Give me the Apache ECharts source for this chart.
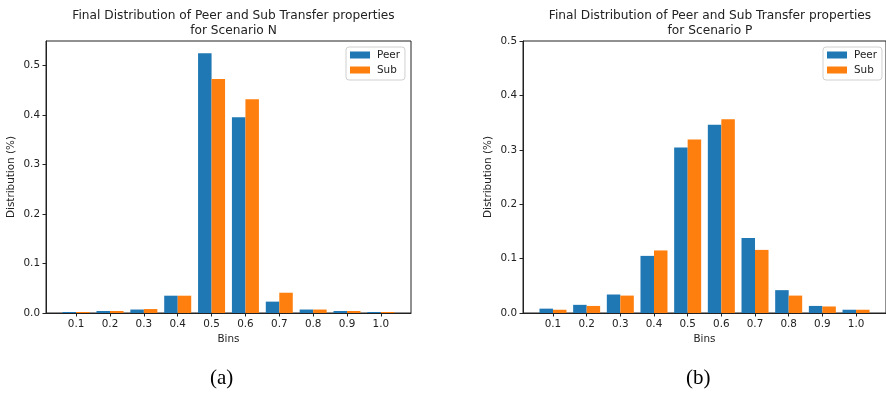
<!DOCTYPE html>
<html>
<head>
<meta charset="utf-8">
<style>
  html, body { margin: 0; padding: 0; background: #fff; }
  #chart { width: 886px; height: 398px; }
</style>
<script src="https://cdn.jsdelivr.net/npm/echarts@6/dist/echarts.min.js"></script>
</head>
<body>
<div id="chart"></div>
<script>
// Bin labels shared by both panels
const bins = ['0.1', '0.2', '0.3', '0.4', '0.5', '0.6', '0.7', '0.8', '0.9', '1.0'];

// Scenario N
const peerN = [0.002, 0.004, 0.007, 0.035, 0.525, 0.396, 0.023, 0.007, 0.004, 0.002];
const subN  = [0.002, 0.004, 0.008, 0.035, 0.473, 0.432, 0.041, 0.007, 0.004, 0.002];

// Scenario P
const peerP = [0.008, 0.015, 0.034, 0.105, 0.304, 0.346, 0.138, 0.042, 0.013, 0.006];
const subP  = [0.006, 0.013, 0.032, 0.115, 0.319, 0.356, 0.116, 0.032, 0.012, 0.006];

// y tick values per panel
const yTicksN = [0, 0.1, 0.2, 0.3, 0.4, 0.5];
const yTicksP = [0, 0.1, 0.2, 0.3, 0.4, 0.5];

const titleN = 'Final Distribution of Peer and Sub Transfer properties\nfor Scenario N';
const titleP = 'Final Distribution of Peer and Sub Transfer properties\nfor Scenario P';

const BLUE = '#1f77b4';
const ORANGE = '#ff7f0e';
const FONT = 'DejaVu Sans';
const INK = '#222';
const FS = 10.4;

const binIdx = bins.map((_, i) => i);
const toPairs = arr => arr.map((v, i) => [i, v]);

function xAxisFor(gridIndex) {
  return {
    type: 'value', gridIndex, min: -0.89, max: 9.89,
    splitLine: { show: false },
    axisLine: { show: true, onZero: false, lineStyle: { color: INK, width: 1 } },
    axisTick: { show: true, length: 3.5, lineStyle: { color: INK }, customValues: binIdx },
    axisLabel: {
      color: INK, fontFamily: FONT, fontSize: FS, margin: 6,
      customValues: binIdx,
      formatter: v => bins[Math.round(v)]
    },
    name: 'Bins', nameLocation: 'middle', nameGap: 20,
    nameTextStyle: { color: INK, fontFamily: FONT, fontSize: FS }
  };
}

function yAxisFor(gridIndex, max, ticks) {
  return {
    type: 'value', gridIndex, min: 0, max,
    splitLine: { show: false },
    axisLine: { show: true, onZero: false, lineStyle: { color: INK, width: 1 } },
    axisTick: { show: true, length: 3.5, lineStyle: { color: INK }, customValues: ticks },
    axisLabel: {
      color: INK, fontFamily: FONT, fontSize: FS, margin: 6,
      customValues: ticks,
      formatter: v => v.toFixed(1)
    },
    name: 'Distribution (%)', nameLocation: 'middle', nameGap: 30, nameRotate: 90,
    nameTextStyle: { color: INK, fontFamily: FONT, fontSize: FS }
  };
}

function barSeries(name, data, color, idx) {
  return {
    type: 'bar', name, data: toPairs(data),
    xAxisIndex: idx, yAxisIndex: idx,
    barWidth: 13.5, barGap: '0%',
    itemStyle: { color },
    emphasis: { disabled: true },
    animation: false
  };
}

function legendFor(left) {
  return {
    data: ['Peer', 'Sub'], orient: 'vertical', left, top: 47,
    icon: 'rect', itemWidth: 20, itemHeight: 7, itemGap: 5,
    padding: [3, 5, 5, 4],
    backgroundColor: 'rgba(255,255,255,0.8)',
    borderColor: '#d0d0d0', borderWidth: 1, borderRadius: 3,
    textStyle: { color: INK, fontFamily: FONT, fontSize: FS, padding: [0, 0, 0, 2] },
    selectedMode: false
  };
}

const chart = echarts.init(document.getElementById('chart'), null, { renderer: 'canvas' });

chart.setOption({
  backgroundColor: '#fff',
  animation: false,
  title: [
    { text: titleN, left: 228.5, top: 3, textAlign: 'center',
      textStyle: { color: INK, fontFamily: FONT, fontSize: 12.2, fontWeight: 'normal', lineHeight: 15 } },
    { text: titleP, left: 705, top: 3, textAlign: 'center',
      textStyle: { color: INK, fontFamily: FONT, fontSize: 12.2, fontWeight: 'normal', lineHeight: 15 } }
  ],
  legend: [legendFor(346), legendFor(823)],
  grid: [
    { left: 46, top: 41, width: 365, height: 272, show: true, borderColor: INK, borderWidth: 1, backgroundColor: 'transparent' },
    { left: 523, top: 41, width: 366, height: 272, show: true, borderColor: INK, borderWidth: 1, backgroundColor: 'transparent' }
  ],
  xAxis: [xAxisFor(0), xAxisFor(1)],
  yAxis: [yAxisFor(0, 0.55, yTicksN), yAxisFor(1, 0.5, yTicksP)],
  series: [
    barSeries('Peer', peerN, BLUE, 0),
    barSeries('Sub', subN, ORANGE, 0),
    barSeries('Peer', peerP, BLUE, 1),
    barSeries('Sub', subP, ORANGE, 1)
  ],
  graphic: [
    { type: 'text', left: 222 - 12, top: 368,
      style: { text: '(a)', fill: '#000', font: '21px "Liberation Serif"' } },
    { type: 'text', left: 698 - 12, top: 368,
      style: { text: '(b)', fill: '#000', font: '21px "Liberation Serif"' } }
  ]
});
</script>
</body>
</html>
